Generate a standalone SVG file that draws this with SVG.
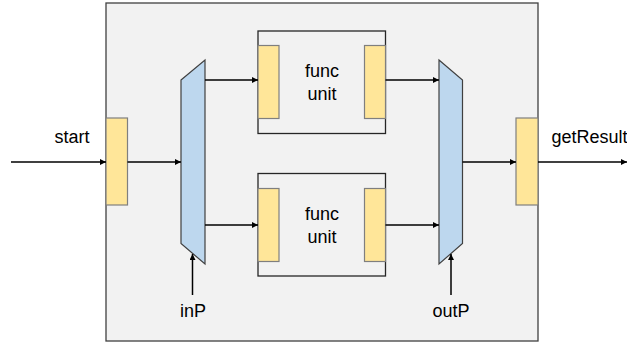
<svg xmlns="http://www.w3.org/2000/svg" width="627" height="343" viewBox="0 0 627 343">
<defs>
<marker id="ah" viewBox="0 0 10 10" refX="10" refY="5" markerWidth="7" markerHeight="6" markerUnits="userSpaceOnUse" orient="auto">
<path d="M0,0 L10,5 L0,10 z" fill="#000"/>
</marker>
<style>
.bg{fill:#f2f2f2;stroke:#404040;stroke-width:1.3}
.reg{fill:#ffe699;stroke:#7f7f7f;stroke-width:1.2}
.mux{fill:#bdd7ee;stroke:#404040;stroke-width:1.2}
.fu{fill:#f2f2f2;stroke:#262626;stroke-width:1.3}
.w{stroke:#000;stroke-width:1.5;fill:none;marker-end:url(#ah)}
text{font-family:"Liberation Sans",Arial,sans-serif;font-size:18px;fill:#000}
</style>
</defs>
<g id="outer"><rect class="bg" x="106" y="3" width="432" height="338"/></g>
<g id="startReg"><rect class="reg" x="106" y="118" width="21.5" height="87"/></g>
<g id="inMux"><polygon class="mux" points="181,80 205,60 205,264 181,243.5"/></g>
<g id="funcUnit1">
<rect class="fu" x="258" y="31" width="127.5" height="102.5"/>
<rect class="reg" x="258" y="45.5" width="21" height="73"/>
<rect class="reg" x="364.5" y="45.5" width="21" height="73"/>
<text x="322" y="77" text-anchor="middle">func</text>
<text x="322" y="100" text-anchor="middle">unit</text>
</g>
<g id="funcUnit2">
<rect class="fu" x="258" y="173.5" width="127.5" height="102.5"/>
<rect class="reg" x="258" y="188.5" width="21" height="73"/>
<rect class="reg" x="364.5" y="188.5" width="21" height="73"/>
<text x="322" y="220" text-anchor="middle">func</text>
<text x="322" y="243" text-anchor="middle">unit</text>
</g>
<g id="outMux"><polygon class="mux" points="439,60 462.5,80 462.5,243.5 439,264"/></g>
<g id="resultReg"><rect class="reg" x="516" y="118" width="22" height="87"/></g>
<g id="labels">
<text x="72" y="143" text-anchor="middle">start</text>
<text x="551.5" y="143">getResult</text>
<text x="193" y="317" text-anchor="middle">inP</text>
<text x="451" y="317" text-anchor="middle">outP</text>
</g>
<g id="connectors">
<line class="w" x1="11" y1="162" x2="106" y2="162"/>
<line class="w" x1="127.5" y1="162" x2="181" y2="162"/>
<line class="w" x1="205" y1="80" x2="258" y2="80"/>
<line class="w" x1="205" y1="225" x2="258" y2="225"/>
<line class="w" x1="385.5" y1="80" x2="439" y2="80"/>
<line class="w" x1="385.5" y1="225" x2="439" y2="225"/>
<line class="w" x1="462.5" y1="162" x2="516" y2="162"/>
<line class="w" x1="538" y1="162" x2="627" y2="162"/>
<line class="w" x1="192.5" y1="295" x2="192.5" y2="254"/>
<line class="w" x1="451" y1="295" x2="451" y2="254"/>
</g>
</svg>
